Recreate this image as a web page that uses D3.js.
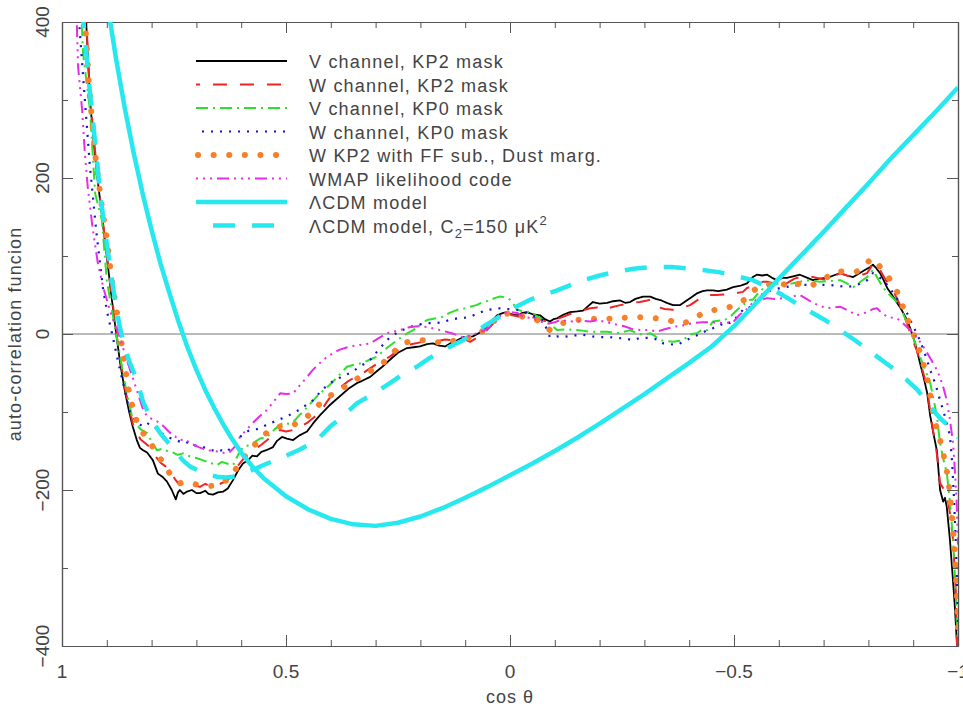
<!DOCTYPE html>
<html>
<head>
<meta charset="utf-8">
<script src="https://cdn.jsdelivr.net/npm/d3@7"></script>
<style>
  body { margin: 0; background: #fff; }
  text { font-family: "Liberation Sans", Arial, sans-serif; fill: #444; }
</style>
</head>
<body>
<svg id="chart" width="963" height="715"></svg>
<script>
// cos(theta) ticks on the x axis (axis runs from 1 on the left to -1 on the right)
const xTicks = [1, 0.5, 0, -0.5, -1]
const xTickLabels = ["1", "0.5", "0", "\u22120.5", "\u22121"]
const yTicks = [400, 200, 0, -200, -400]
const yTickLabels = ["400", "200", "0", "\u2212200", "\u2212400"]

// [cos theta, C(theta)]
const vKp2 = [[0.96,510],[0.946,400],[0.9375,300],[0.93,250],[0.921,200],[0.91,148],[0.90,100],[0.89,50],[0.879,0],[0.87,-38],[0.86,-72],[0.85,-100],[0.842,-119],[0.833,-136],[0.826,-146],[0.819,-149],[0.81,-152],[0.797,-162],[0.786,-179],[0.776,-183],[0.766,-189],[0.755,-200],[0.746,-212],[0.741,-203],[0.737,-200],[0.729,-205],[0.721,-202],[0.71,-200],[0.70,-204],[0.692,-204],[0.68,-201],[0.673,-205],[0.663,-206],[0.652,-203],[0.640,-202],[0.63,-198],[0.618,-187],[0.607,-175],[0.596,-166],[0.585,-162],[0.575,-156],[0.565,-157],[0.555,-151],[0.544,-149],[0.529,-145],[0.52,-137],[0.509,-132],[0.498,-134],[0.484,-136],[0.47,-130],[0.453,-125],[0.44,-115],[0.424,-104],[0.412,-97],[0.402,-91],[0.39,-85],[0.372,-76],[0.36,-70],[0.342,-63],[0.33,-60],[0.312,-55],[0.30,-49],[0.285,-42],[0.268,-33],[0.25,-24],[0.23,-18],[0.215,-17],[0.201,-16],[0.185,-13],[0.172,-12],[0.158,-15],[0.145,-16],[0.13,-11],[0.118,-8],[0.104,-4],[0.083,-3],[0.07,1],[0.06,5],[0.045,14],[0.029,24],[0.015,27],[0.007,28],[-0.005,25],[-0.016,24],[-0.027,27],[-0.038,28],[-0.052,25],[-0.067,24],[-0.078,19],[-0.089,16],[-0.097,19],[-0.105,20],[-0.12,25],[-0.134,28],[-0.15,29],[-0.163,30],[-0.175,36],[-0.185,41],[-0.2,39],[-0.217,40],[-0.23,42],[-0.246,43],[-0.257,40],[-0.268,41],[-0.28,45],[-0.297,48],[-0.313,48],[-0.325,45],[-0.338,43],[-0.35,40],[-0.364,37],[-0.379,37],[-0.392,42],[-0.405,47],[-0.417,52],[-0.43,55],[-0.44,56],[-0.453,56],[-0.465,55],[-0.484,57],[-0.498,60],[-0.515,62],[-0.529,65],[-0.542,73],[-0.551,76],[-0.563,75],[-0.574,76],[-0.585,72],[-0.596,69],[-0.608,72],[-0.618,72],[-0.632,74],[-0.647,76],[-0.66,73],[-0.676,69],[-0.69,71],[-0.708,72],[-0.722,75],[-0.737,78],[-0.752,75],[-0.766,73],[-0.78,78],[-0.795,83],[-0.804,86],[-0.81,89],[-0.818,84],[-0.826,78],[-0.834,69],[-0.842,59],[-0.853,50],[-0.864,40],[-0.875,30],[-0.886,18],[-0.893,8],[-0.90,-4],[-0.908,-20],[-0.915,-37],[-0.923,-55],[-0.931,-75],[-0.938,-105],[-0.946,-130],[-0.953,-150],[-0.96,-200],[-0.967,-215],[-0.971,-210],[-0.975,-222],[-0.982,-264],[-0.988,-310],[-0.993,-350],[-0.998,-401],[-1.0,-420]]

const wKp2 = [[0.96,520],[0.946,405],[0.9375,305],[0.921,203],[0.90,102],[0.879,2],[0.86,-68],[0.842,-115],[0.825,-135],[0.81,-142],[0.804,-145],[0.79,-158],[0.78,-165],[0.768,-170],[0.759,-175],[0.748,-186],[0.737,-194],[0.725,-190],[0.714,-193],[0.70,-195],[0.692,-196],[0.68,-192],[0.667,-196],[0.654,-194],[0.643,-191],[0.632,-189],[0.62,-180],[0.609,-170],[0.595,-160],[0.58,-153],[0.565,-146],[0.555,-142],[0.542,-136],[0.528,-128],[0.513,-123],[0.5,-125],[0.484,-123],[0.468,-119],[0.453,-114],[0.44,-108],[0.424,-101],[0.41,-88],[0.395,-76],[0.38,-69],[0.36,-60],[0.345,-55],[0.328,-50],[0.31,-43],[0.29,-36],[0.268,-29],[0.25,-21],[0.23,-14],[0.21,-12],[0.195,-10],[0.179,-10],[0.16,-9],[0.145,-7],[0.127,-8],[0.11,-6],[0.096,-8],[0.089,-10],[0.074,-5],[0.06,0],[0.045,9],[0.03,18],[0.015,25],[0.007,27],[-0.005,24],[-0.022,22],[-0.04,23],[-0.06,20],[-0.075,17],[-0.089,16],[-0.1,18],[-0.118,22],[-0.14,27],[-0.16,30],[-0.179,33],[-0.195,34],[-0.208,31],[-0.225,34],[-0.246,37],[-0.27,40],[-0.29,41],[-0.306,43],[-0.313,44],[-0.328,35],[-0.345,32],[-0.364,31],[-0.38,33],[-0.402,37],[-0.42,44],[-0.44,50],[-0.46,50],[-0.484,51],[-0.5,52],[-0.52,54],[-0.529,59],[-0.55,63],[-0.565,67],[-0.574,67],[-0.587,65],[-0.603,60],[-0.62,66],[-0.635,71],[-0.647,73],[-0.662,74],[-0.676,73],[-0.692,71],[-0.708,69],[-0.722,74],[-0.737,78],[-0.752,75],[-0.766,73],[-0.782,75],[-0.797,78],[-0.805,85],[-0.81,91],[-0.818,87],[-0.826,82],[-0.84,68],[-0.855,56],[-0.87,38],[-0.886,14],[-0.897,-5],[-0.908,-21],[-0.92,-45],[-0.931,-68],[-0.938,-100],[-0.944,-123],[-0.952,-150],[-0.96,-191],[-0.967,-198],[-0.975,-204],[-0.982,-230],[-0.989,-264],[-0.995,-330],[-0.998,-401],[-1.0,-430]]

const vKp0 = [[0.97,520],[0.956,400],[0.953,360],[0.9375,287],[0.926,180],[0.911,146],[0.90,69],[0.89,35],[0.88,3],[0.87,-30],[0.86,-62],[0.85,-90],[0.842,-110],[0.825,-122],[0.81,-127],[0.80,-138],[0.788,-149],[0.775,-147],[0.765,-150],[0.755,-151],[0.742,-155],[0.73,-153],[0.714,-157],[0.70,-159],[0.685,-162],[0.67,-165],[0.654,-168],[0.643,-164],[0.632,-166],[0.618,-168],[0.607,-155],[0.596,-145],[0.585,-143],[0.574,-140],[0.558,-134],[0.542,-132],[0.525,-122],[0.507,-114],[0.495,-115],[0.484,-113],[0.47,-104],[0.462,-100],[0.447,-90],[0.431,-80],[0.418,-73],[0.402,-65],[0.385,-55],[0.364,-42],[0.345,-39],[0.328,-37],[0.31,-32],[0.297,-29],[0.275,-18],[0.252,-8],[0.235,-1],[0.216,5],[0.2,12],[0.185,18],[0.168,20],[0.15,22],[0.135,27],[0.118,31],[0.1,33],[0.089,35],[0.075,37],[0.06,41],[0.045,43],[0.035,46],[0.022,48],[0.01,47],[0.0,44],[-0.008,38],[-0.016,31],[-0.03,29],[-0.045,28],[-0.06,23],[-0.074,18],[-0.083,16],[-0.095,10],[-0.105,5],[-0.125,6],[-0.15,5],[-0.165,4],[-0.179,3],[-0.194,3],[-0.217,3],[-0.239,1],[-0.255,3],[-0.268,5],[-0.283,1],[-0.297,-1],[-0.313,1],[-0.322,-2],[-0.335,-8],[-0.35,-9],[-0.364,-10],[-0.375,-9],[-0.386,-8],[-0.395,-4],[-0.405,0],[-0.417,1],[-0.43,6],[-0.44,5],[-0.453,16],[-0.465,17],[-0.48,18],[-0.495,24],[-0.507,31],[-0.52,37],[-0.536,44],[-0.542,44],[-0.555,53],[-0.574,63],[-0.59,64],[-0.603,65],[-0.618,64],[-0.632,65],[-0.648,67],[-0.663,69],[-0.678,68],[-0.692,67],[-0.715,68],[-0.737,69],[-0.752,65],[-0.766,60],[-0.78,66],[-0.797,73],[-0.81,82],[-0.82,72],[-0.83,62],[-0.842,53],[-0.857,45],[-0.871,35],[-0.882,20],[-0.893,5],[-0.905,-12],[-0.915,-29],[-0.927,-46],[-0.938,-63],[-0.946,-85],[-0.953,-106],[-0.96,-140],[-0.967,-160],[-0.975,-178],[-0.982,-215],[-0.989,-264],[-0.995,-330],[-1.0,-395]]

const wKp0 = [[0.975,520],[0.96,386],[0.949,300],[0.9375,214],[0.923,129],[0.908,56],[0.898,25],[0.888,0],[0.875,-35],[0.86,-72],[0.848,-101],[0.835,-112],[0.819,-119],[0.808,-115],[0.797,-117],[0.785,-124],[0.766,-132],[0.75,-135],[0.737,-138],[0.725,-137],[0.714,-142],[0.70,-143],[0.685,-145],[0.67,-148],[0.654,-151],[0.643,-149],[0.632,-151],[0.618,-143],[0.603,-132],[0.59,-126],[0.58,-123],[0.565,-122],[0.551,-119],[0.54,-115],[0.529,-113],[0.513,-109],[0.498,-106],[0.484,-101],[0.469,-97],[0.455,-91],[0.44,-85],[0.42,-72],[0.402,-63],[0.38,-56],[0.357,-50],[0.335,-42],[0.312,-33],[0.29,-18],[0.268,-4],[0.245,4],[0.223,9],[0.205,12],[0.185,14],[0.168,14],[0.15,15],[0.135,18],[0.118,20],[0.1,21],[0.089,22],[0.07,27],[0.051,31],[0.035,32],[0.022,33],[0.005,32],[-0.016,31],[-0.035,27],[-0.051,24],[-0.065,20],[-0.074,18],[-0.082,6],[-0.089,-4],[-0.105,-3],[-0.118,-4],[-0.14,-2],[-0.163,-1],[-0.18,-3],[-0.201,-4],[-0.22,-4],[-0.239,-5],[-0.258,-6],[-0.275,-8],[-0.29,-5],[-0.313,-5],[-0.335,-8],[-0.342,-12],[-0.357,-13],[-0.373,-14],[-0.39,-9],[-0.408,-4],[-0.425,0],[-0.44,5],[-0.462,9],[-0.484,16],[-0.491,14],[-0.505,21],[-0.52,31],[-0.529,31],[-0.545,40],[-0.558,49],[-0.575,55],[-0.59,57],[-0.603,59],[-0.625,61],[-0.647,63],[-0.675,63],[-0.708,63],[-0.73,62],[-0.752,60],[-0.775,63],[-0.797,69],[-0.81,78],[-0.822,74],[-0.833,69],[-0.845,61],[-0.855,53],[-0.87,40],[-0.886,27],[-0.9,10],[-0.915,-8],[-0.927,-27],[-0.938,-46],[-0.95,-65],[-0.96,-85],[-0.968,-100],[-0.975,-115],[-0.982,-130],[-0.987,-165],[-0.991,-210],[-0.995,-265],[-0.998,-320],[-1.0,-380]]

const wKp2Ff = [[0.96,505],[0.944,360],[0.94,319],[0.931,262],[0.924,221],[0.911,163],[0.90,123],[0.888,65],[0.877,27],[0.87,0],[0.86,-40],[0.85,-75],[0.84,-100],[0.83,-117],[0.819,-127],[0.808,-135],[0.797,-145],[0.78,-160],[0.768,-172],[0.759,-179],[0.748,-186],[0.737,-191],[0.725,-192],[0.714,-191],[0.70,-193],[0.685,-194],[0.67,-195],[0.658,-194],[0.645,-192],[0.632,-187],[0.618,-178],[0.603,-166],[0.59,-155],[0.574,-145],[0.555,-133],[0.54,-125],[0.529,-121],[0.51,-118],[0.495,-118],[0.484,-117],[0.47,-112],[0.453,-106],[0.44,-99],[0.431,-93],[0.41,-82],[0.395,-77],[0.379,-72],[0.357,-63],[0.335,-55],[0.32,-50],[0.306,-46],[0.295,-42],[0.283,-37],[0.263,-25],[0.25,-18],[0.239,-12],[0.22,-9],[0.208,-8],[0.19,-8],[0.179,-8],[0.165,-10],[0.15,-12],[0.135,-10],[0.118,-8],[0.1,-6],[0.083,-4],[0.065,2],[0.051,9],[0.035,17],[0.022,24],[0.008,26],[-0.007,27],[-0.018,25],[-0.029,22],[-0.045,20],[-0.06,18],[-0.075,12],[-0.089,5],[-0.103,9],[-0.118,14],[-0.135,16],[-0.152,18],[-0.165,19],[-0.179,20],[-0.193,19],[-0.208,18],[-0.225,20],[-0.239,22],[-0.255,21],[-0.268,20],[-0.283,21],[-0.297,22],[-0.313,21],[-0.328,20],[-0.35,18],[-0.365,16],[-0.379,13],[-0.393,15],[-0.408,19],[-0.42,23],[-0.431,27],[-0.445,29],[-0.458,31],[-0.47,32],[-0.484,33],[-0.5,37],[-0.513,41],[-0.528,45],[-0.542,55],[-0.555,60],[-0.574,62],[-0.596,67],[-0.61,64],[-0.625,60],[-0.647,65],[-0.662,64],[-0.676,63],[-0.692,68],[-0.708,73],[-0.72,78],[-0.73,80],[-0.752,80],[-0.774,80],[-0.79,87],[-0.802,94],[-0.81,97],[-0.818,92],[-0.826,86],[-0.84,76],[-0.855,65],[-0.866,52],[-0.877,35],[-0.888,18],[-0.9,1],[-0.912,-18],[-0.922,-37],[-0.931,-55],[-0.938,-78],[-0.944,-101],[-0.952,-120],[-0.96,-136],[-0.967,-153],[-0.975,-175],[-0.982,-204],[-0.989,-251],[-0.993,-281],[-0.998,-341],[-1.0,-380]]

const wmapLike = [[0.98,520],[0.967,400],[0.964,342],[0.955,287],[0.949,232],[0.942,185],[0.931,133],[0.92,91],[0.908,60],[0.897,38],[0.893,30],[0.882,12],[0.871,-4],[0.86,-25],[0.848,-46],[0.833,-72],[0.82,-95],[0.81,-106],[0.795,-110],[0.781,-114],[0.76,-126],[0.737,-136],[0.725,-135],[0.714,-140],[0.695,-145],[0.676,-149],[0.66,-150],[0.647,-151],[0.636,-153],[0.625,-151],[0.615,-145],[0.603,-132],[0.59,-124],[0.574,-114],[0.56,-106],[0.542,-97],[0.528,-87],[0.513,-76],[0.5,-77],[0.484,-76],[0.468,-65],[0.453,-55],[0.44,-46],[0.424,-37],[0.41,-30],[0.402,-27],[0.38,-20],[0.357,-16],[0.335,-14],[0.312,-12],[0.295,-6],[0.275,1],[0.26,3],[0.246,5],[0.223,9],[0.205,10],[0.185,9],[0.17,7],[0.156,5],[0.13,1],[0.105,-4],[0.09,-2],[0.074,1],[0.06,4],[0.045,9],[0.03,18],[0.016,27],[0.0,28],[-0.016,27],[-0.03,22],[-0.051,20],[-0.068,16],[-0.083,13],[-0.1,15],[-0.112,18],[-0.14,16],[-0.163,17],[-0.18,16],[-0.194,18],[-0.217,15],[-0.239,12],[-0.255,10],[-0.275,6],[-0.295,5],[-0.313,5],[-0.328,3],[-0.345,6],[-0.364,9],[-0.385,11],[-0.408,14],[-0.43,15],[-0.453,15],[-0.475,14],[-0.498,15],[-0.513,25],[-0.529,32],[-0.542,40],[-0.555,43],[-0.574,46],[-0.59,45],[-0.609,46],[-0.628,48],[-0.647,50],[-0.662,45],[-0.676,40],[-0.692,36],[-0.708,33],[-0.72,34],[-0.737,35],[-0.755,30],[-0.774,24],[-0.786,26],[-0.797,28],[-0.81,32],[-0.819,33],[-0.83,27],[-0.842,22],[-0.852,21],[-0.864,20],[-0.875,15],[-0.886,9],[-0.897,3],[-0.908,-4],[-0.92,-14],[-0.931,-24],[-0.942,-35],[-0.953,-46],[-0.96,-56],[-0.967,-68],[-0.975,-85],[-0.982,-110],[-0.989,-140],[-0.993,-175],[-0.997,-215],[-1.0,-270]]

const lcdm = [[0.91,490],[0.90,428],[0.88,355],[0.86,290],[0.84,232],[0.82,180],[0.80,133],[0.78,90],[0.76,52],[0.74,16],[0.72,-17],[0.70,-46],[0.68,-72],[0.66,-95],[0.64,-116],[0.62,-135],[0.60,-152],[0.575,-170],[0.55,-185],[0.50,-208],[0.45,-225],[0.40,-237],[0.35,-244],[0.30,-246],[0.25,-242],[0.20,-234],[0.15,-223],[0.10,-210],[0.05,-196],[0.0,-181],[-0.05,-166],[-0.10,-150],[-0.15,-133],[-0.20,-115],[-0.25,-96],[-0.30,-77],[-0.35,-57],[-0.40,-37],[-0.45,-16],[-0.50,10],[-0.55,40],[-0.60,71],[-0.65,101],[-0.70,131],[-0.75,162],[-0.80,193],[-0.85,225],[-0.90,255],[-0.95,285],[-1.0,316]]

const lcdmC2 = [[0.97,520],[0.96,450],[0.9375,309],[0.922,223],[0.915,180],[0.897,103],[0.882,44],[0.871,9],[0.864,-8],[0.85,-35],[0.833,-59],[0.819,-87],[0.80,-110],[0.781,-127],[0.765,-138],[0.752,-147],[0.73,-162],[0.714,-170],[0.699,-174],[0.68,-179],[0.654,-183],[0.635,-184],[0.618,-183],[0.60,-180],[0.574,-174],[0.55,-168],[0.529,-163],[0.50,-156],[0.469,-148],[0.44,-139],[0.424,-132],[0.402,-119],[0.37,-104],[0.342,-89],[0.30,-75],[0.268,-63],[0.24,-52],[0.208,-42],[0.18,-31],[0.15,-21],[0.105,-8],[0.06,9],[0.03,20],[0.0,31],[-0.045,44],[-0.105,56],[-0.163,69],[-0.2,75],[-0.239,80],[-0.28,84],[-0.319,86],[-0.36,86],[-0.395,84],[-0.431,82],[-0.469,79],[-0.513,73],[-0.542,69],[-0.587,57],[-0.62,46],[-0.663,31],[-0.70,19],[-0.737,5],[-0.77,-8],[-0.81,-25],[-0.85,-42],[-0.886,-59],[-0.91,-72],[-0.938,-93],[-0.96,-108],[-0.989,-123],[-1.0,-133]]

const seriesNames = ["V channel, KP2 mask", "W channel, KP2 mask", "V channel, KP0 mask", "W channel, KP0 mask",
  "W KP2 with FF sub., Dust marg.", "WMAP likelihood code", "\u039BCDM model", "\u039BCDM model, C2=150 \u03BCK2"]
const seriesData = [vKp2, wKp2, vKp0, wKp0, wKp2Ff, wmapLike, lcdm, lcdmC2]

// line styles, one per series
const styles = [
  { color: "#000000", width: 1.8, dash: null, off: 0 },
  { color: "#f02424", width: 2, dash: "14 13", off: 10 },
  { color: "#2de02d", width: 2, dash: "12 5 2 5", off: 0 },
  { color: "#1414cc", width: 2.2, dash: "2 7", off: -6 },
  { color: "#f7802a", width: 6, dash: "0.1 15.5", off: -2, cap: "round" },
  { color: "#e62ee6", width: 2, dash: "2 5 2 5 2 5 12 5", off: 0 },
  { color: "#26e8ee", width: 4.5, dash: null, off: 0 },
  { color: "#26e8ee", width: 4.5, dash: "22 17", off: -17 }
]

const width = 963, height = 715
const margin = { left: 62, right: 5, top: 22, bottom: 69 }

const svg = d3.select("#chart")

const x = d3.scaleLinear().domain([1, -1]).range([margin.left, width - margin.right])
const y = d3.scaleLinear().domain([-400, 400]).range([height - margin.bottom, margin.top])

const x0 = x.range()[0], x1 = x.range()[1]
const y0 = y.range()[1], y1 = y.range()[0]

svg.append("defs").append("clipPath").attr("id", "plotClip")
  .append("rect")
  .attr("x", x0).attr("y", y0)
  .attr("width", x1 - x0).attr("height", y1 - y0)

// zero line
svg.append("line")
  .attr("x1", x0).attr("x2", x1)
  .attr("y1", y(0)).attr("y2", y(0))
  .attr("stroke", "#777").attr("stroke-width", 1.2)

// axes with inward ticks
const axisColor = "#555"
const minorX = d3.range(-10, 11).map(d => d / 10).filter(d => Math.abs(d * 2 - Math.round(d * 2)) > 1e-6)
const minorY = [-300, -100, 100, 300]

function styleAxis(g) {
  g.selectAll("path").attr("stroke", axisColor).attr("stroke-width", 1.2)
  g.selectAll("line").attr("stroke", axisColor).attr("stroke-width", 1)
  g.selectAll("text").remove()
}

const axes = svg.append("g")
axes.append("g").attr("transform", `translate(0,${y1})`)
  .call(d3.axisBottom(x).tickValues(xTicks).tickSize(-11).tickSizeOuter(0)).call(styleAxis)
axes.append("g").attr("transform", `translate(0,${y1})`)
  .call(d3.axisBottom(x).tickValues(minorX).tickSize(-6).tickSizeOuter(0)).call(styleAxis)
axes.append("g").attr("transform", `translate(0,${y0})`)
  .call(d3.axisTop(x).tickValues(xTicks).tickSize(-11).tickSizeOuter(0)).call(styleAxis)
axes.append("g").attr("transform", `translate(0,${y0})`)
  .call(d3.axisTop(x).tickValues(minorX).tickSize(-6).tickSizeOuter(0)).call(styleAxis)
axes.append("g").attr("transform", `translate(${x0},0)`)
  .call(d3.axisLeft(y).tickValues(yTicks).tickSize(-11).tickSizeOuter(0)).call(styleAxis)
axes.append("g").attr("transform", `translate(${x0},0)`)
  .call(d3.axisLeft(y).tickValues(minorY).tickSize(-6).tickSizeOuter(0)).call(styleAxis)
axes.append("g").attr("transform", `translate(${x1},0)`)
  .call(d3.axisRight(y).tickValues(yTicks).tickSize(-11).tickSizeOuter(0)).call(styleAxis)
axes.append("g").attr("transform", `translate(${x1},0)`)
  .call(d3.axisRight(y).tickValues(minorY).tickSize(-6).tickSizeOuter(0)).call(styleAxis)

// tick labels (the last one runs off the right edge, as in the original figure)
svg.append("g").selectAll("text")
  .data(xTicks)
  .join("text")
  .attr("x", d => x(d))
  .attr("y", y1 + 32)
  .attr("text-anchor", "middle")
  .style("font-size", "19px")
  .text((d, i) => xTickLabels[i])

svg.append("g").selectAll("text")
  .data(yTicks)
  .join("text")
  .attr("transform", d => `translate(${x0 - 13},${y(d)}) rotate(-90)`)
  .attr("text-anchor", "middle")
  .style("font-size", "19px")
  .text((d, i) => yTickLabels[i])

// axis titles
svg.append("text")
  .attr("x", x(0)).attr("y", 703)
  .attr("text-anchor", "middle")
  .style("font-size", "18px")
  .style("letter-spacing", "1px")
  .text("cos \u03B8")

svg.append("text")
  .attr("transform", `translate(21,${y(0)}) rotate(-90)`)
  .attr("text-anchor", "middle")
  .style("font-size", "18px")
  .style("letter-spacing", "1.1px")
  .text("auto-correlation funcion")

// curves
const line = d3.line().x(d => x(d[0])).y(d => y(d[1]))

const plot = svg.append("g").attr("clip-path", "url(#plotClip)")
plot.selectAll("path")
  .data(seriesData)
  .join("path")
  .attr("d", line)
  .attr("fill", "none")
  .attr("stroke", (d, i) => styles[i].color)
  .attr("stroke-width", (d, i) => styles[i].width)
  .attr("stroke-dasharray", (d, i) => styles[i].dash)
  .attr("stroke-linecap", (d, i) => styles[i].cap || "butt")
  .attr("stroke-linejoin", "round")

// legend
const legX0 = 196, legX1 = 287, legText = 309, legTop = 61, legStep = 23.5
const legend = svg.append("g")
const rows = legend.selectAll("g")
  .data(seriesNames)
  .join("g")
  .attr("transform", (d, i) => `translate(0,${legTop + i * legStep})`)

rows.append("line")
  .attr("x1", legX0).attr("x2", legX1)
  .attr("stroke", (d, i) => styles[i].color)
  .attr("stroke-width", (d, i) => styles[i].width)
  .attr("stroke-dasharray", (d, i) => styles[i].dash)
  .attr("stroke-dashoffset", (d, i) => styles[i].off)
  .attr("stroke-linecap", (d, i) => styles[i].cap || "butt")

rows.each(function (d, i) {
  const t = d3.select(this).append("text")
    .attr("x", legText).attr("y", 7)
    .style("font-size", "18px")
    .style("letter-spacing", "1.2px")
  if (i === seriesNames.length - 1) {
    t.append("tspan").text("\u039BCDM model, C")
    t.append("tspan").attr("dy", 5).style("font-size", "13px").text("2")
    t.append("tspan").attr("dy", -5).text("=150 \u03BCK")
    t.append("tspan").attr("dy", -8).style("font-size", "13px").text("2")
  } else {
    t.text(d)
  }
})
</script>
</body>
</html>
